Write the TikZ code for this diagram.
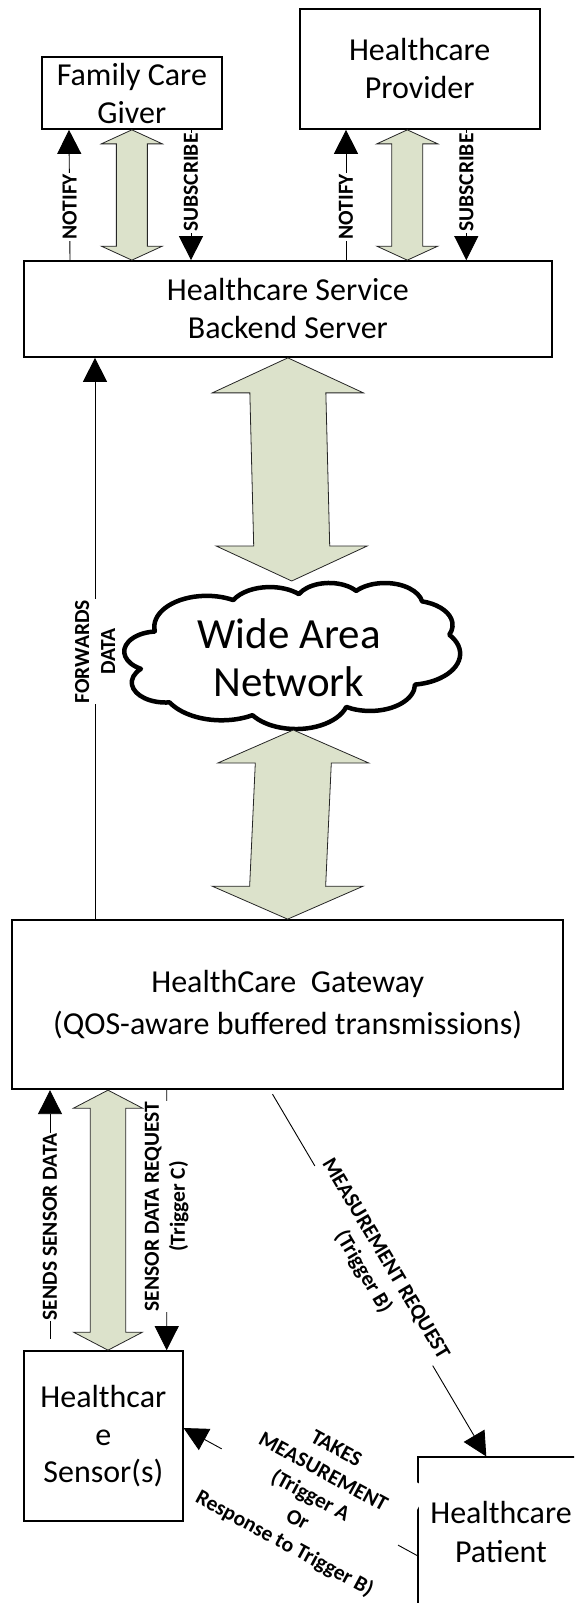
\documentclass[tikz,border=0pt]{standalone}
\usepackage{fontspec}
\setmainfont{Carlito}
\usetikzlibrary{arrows.meta,calc}
\definecolor{arrowfill}{RGB}{220,226,203}
\tikzset{
  box/.style={draw, line width=1.7pt, inner sep=0pt, align=center, font=\fontsize{32}{38}\selectfont},
  conn/.style={line width=0.9pt, -{Triangle[length=24pt,width=24pt]}},
  lbl/.style={fill=white, inner sep=1pt, align=center, font=\bfseries\fontsize{21.5}{26}\selectfont},
  bigarrow/.style={draw=black!85, line width=0.8pt, fill=arrowfill, line join=miter},
  cloudline/.style={draw, line width=4.5pt, fill=white, line join=round},
  carc/.style n args={4}{insert path={arc[start angle={atan2((#1)*sin(#3),(#2)*cos(#3))},
     delta angle={mod(atan2((#1)*sin((#3)+(#4)),(#2)*cos((#3)+(#4)))-atan2((#1)*sin(#3),(#2)*cos(#3))+720,360)},
     x radius=#1, y radius=#2]}}
}
% #1 top tip, #2 bottom tip, #3 head half width, #4 shaft half width, #5 head length
\newcommand\udarrow[5]{%
  \draw[bigarrow] (#1) -- ([xshift=#3,yshift=-#5]#1) -- ([xshift=#4,yshift=-#5]#1)
    -- ([xshift=#4,yshift=#5]#2) -- ([xshift=#3,yshift=#5]#2) -- (#2)
    -- ([xshift=-#3,yshift=#5]#2) -- ([xshift=-#4,yshift=#5]#2)
    -- ([xshift=-#4,yshift=-#5]#1) -- ([xshift=-#3,yshift=-#5]#1) -- cycle;}
\begin{document}
\begin{tikzpicture}[x=1pt,y=-1pt]
\useasboundingbox (0,0) rectangle (574,1603);
\clip (0,0) rectangle (574,1603);

% nodes
\node[box, minimum width=180.3pt, minimum height=72pt] (fcg) at (131.85,93) {Family Care\\Giver};
\node[box, minimum width=240pt, minimum height=120pt] (prov) at (419.7,69) {Healthcare\\Provider};
\node[box, minimum width=527.7pt, minimum height=96pt] (backend) at (287.85,309) {Healthcare Service\\Backend Server};

% cloud (wide area network)
\begin{scope}[shift={(124.5,582.5)}, x=0.77662pt, y=-0.33796pt]
\path[cloudline] (39,143.7)
  [carc={67.53}{91.90}{-190.4875}{123.7805}]
  [carc={53.33}{72.67}{-144.1024}{89.9452}]
  [carc={43.65}{59.45}{-145.8079}{99.7230}]
  [carc={48.57}{65.95}{-130.9861}{117.2417}]
  [carc={53.33}{72.73}{-78.7089}{109.0269}]
  [carc={67.75}{92.20}{-46.2673}{130.2690}]
  [carc={57.85}{78.67}{0.6250}{114.0333}]
  [carc={67.52}{92.15}{22.4516}{115.1726}]
  [carc={77.20}{105.43}{66.2426}{75.7110}]
  [carc={43.60}{59.18}{-274.9421}{146.7356}]
  [carc={43.45}{59.45}{-246.8285}{152.5189}] -- cycle;
\end{scope}
\node[inner sep=0pt, align=center, font=\fontsize{43}{48}\selectfont] (wan) at (289,657.5) {Wide Area\\Network};

\node[box, minimum width=551.3pt, minimum height=169.3pt, font=\fontsize{32}{42}\selectfont] (gateway) at (287.65,1004.65) {HealthCare\ \ Gateway\\(QOS-aware buffered transmissions)};
\node[box, minimum width=158.7pt, minimum height=170.3pt, font=\fontsize{32}{37.5}\selectfont] (sensor) at (103.35,1436.15) {Healthcar\\e\\Sensor(s)};
\node[box, minimum width=165.4pt, minimum height=149.4pt, font=\fontsize{32}{39}\selectfont] (patient) at (501,1532) {Healthcare\\Patient};

% big double arrows
\coordinate (f1) at (fcg.south);
\coordinate (f2) at (fcg.south |- backend.north);
\udarrow{f1}{f2}{30.5pt}{15.5pt}{14pt}
\coordinate (p1) at ([xshift=-12.4pt]prov.south);
\coordinate (p2) at (p1 |- backend.north);
\udarrow{p1}{p2}{30.5pt}{15.5pt}{14pt}
\coordinate (w1) at ([xshift=2.7pt,yshift=76.5pt]wan.center);
\coordinate (w2) at ([xshift=4.3pt,yshift=-72.5pt]wan.center);
\udarrow{backend.south}{w1}{75.5pt}{38pt}{35pt}
\udarrow{w2}{gateway.north}{75.5pt}{38pt}{33pt}
\coordinate (s2) at ([xshift=4.65pt]sensor.north);
\coordinate (s1) at (s2 |- gateway.south);
\udarrow{s1}{s2}{34.5pt}{17.7pt}{18pt}

% connectors
\draw[conn] ([xshift=-217.85pt]backend.north) -- node[lbl, rotate=90, pos=0.41] {NOTIFY} ([xshift=-62.85pt]fcg.south);
\draw[conn] ([xshift=59.15pt]fcg.south) -- node[lbl, rotate=90, pos=0.405] {SUBSCRIBE} ([xshift=-96.85pt]backend.north);
\draw[conn] ([xshift=58.15pt]backend.north) -- node[lbl, rotate=90, pos=0.41] {NOTIFY} ([xshift=-73.7pt]prov.south);
\draw[conn] ([xshift=46.6pt]prov.south) -- node[lbl, rotate=90, pos=0.405] {SUBSCRIBE} ([xshift=178.45pt]backend.north);
\draw[conn] ([xshift=-192.65pt]gateway.north) -- node[lbl, rotate=90, pos=0.4766] {FORWARDS\\DATA} ([xshift=-192.85pt]backend.south);

\coordinate (ssd) at ([xshift=-53.35pt,yshift=11.5pt]sensor.north);
\draw[conn] (ssd) -- node[lbl, rotate=90, pos=0.449] {SENDS SENSOR DATA} ([xshift=-237.65pt]gateway.south);
\draw[conn] ([xshift=-120.95pt]gateway.south) -- node[lbl, rotate=90, pos=0.447] {SENSOR DATA REQUEST\\(Trigger C)} ([xshift=63.35pt]sensor.north);

\coordinate (mr) at ([xshift=-15.15pt,yshift=-4pt]gateway.south);
\draw[conn] (mr) -- node[lbl, rotate=-59.3, pos=0.4737] {MEASUREMENT REQUEST\\(Trigger B)} ([xshift=-14.7pt]patient.north);

\draw[conn] ([yshift=-23.7pt]patient.west) -- node[lbl, rotate=-28.5, pos=0.46, font=\bfseries\fontsize{21.5}{27}\selectfont] {TAKES\\MEASUREMENT\\(Trigger A\\Or\\Response to Trigger B)} ([yshift=8.15pt]sensor.east);
\end{tikzpicture}
\end{document}
